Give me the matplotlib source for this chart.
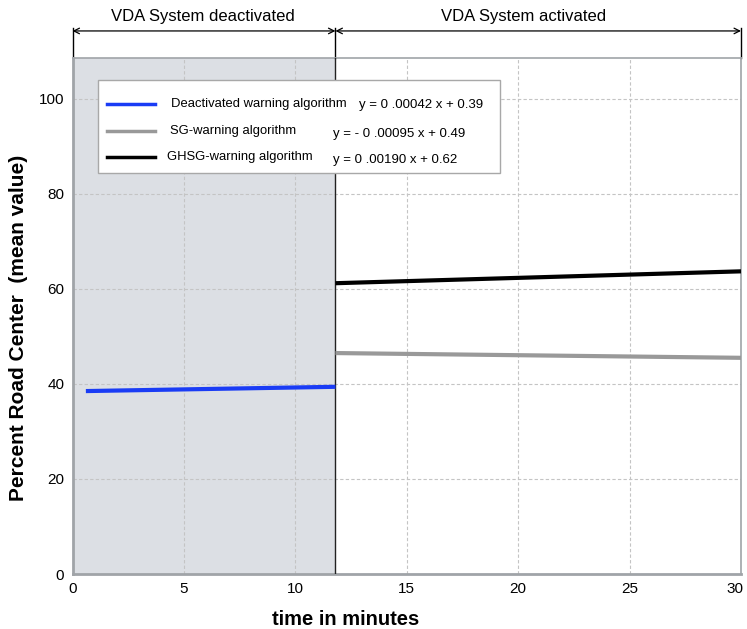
import matplotlib
matplotlib.use("Agg")
import matplotlib.pyplot as plt
import matplotlib.transforms as mtransforms
from matplotlib.patches import Rectangle
from matplotlib.lines import Line2D

plt.rcParams['font.family'] = ['Liberation Sans', 'DejaVu Sans']

# ---- data ----
switch_time = 11.8          # VDA system switched on (minutes)
x_range = [0, 30]
y_range = [0, 108.6]
xticks = [0, 5, 10, 15, 20, 25, 30]
yticks = [0, 20, 40, 60, 80, 100]

deact_x = [0.6, switch_time]
deact_y = [38.5, 39.4]
sg_x = [switch_time, 30]
sg_y = [46.5, 45.5]
ghsg_x = [switch_time, 30]
ghsg_y = [61.2, 63.7]

series_names = ["Deactivated warning algorithm", "SG-warning algorithm", "GHSG-warning algorithm"]
equations = ["y = 0 .00042 x + 0.39", "y = - 0 .00095 x + 0.49", "y = 0 .00190 x + 0.62"]
colors = ["#1a3cf5", "#999999", "#000000"]
phase_labels = ["VDA System deactivated", "VDA System activated"]

W, H = 747, 629
fig = plt.figure(figsize=(W / 100, H / 100), dpi=100)
ax = fig.add_axes([72.5 / W, 1 - 574 / H, (741 - 72.5) / W, (574 - 58) / H])
ax.set_xlim(*x_range)
ax.set_ylim(*y_range)

# shaded deactivated region
ax.axvspan(x_range[0], switch_time, color="#dcdfe4", zorder=0, lw=0)
ax.axvline(switch_time, color="#222222", lw=1.0, zorder=3)

# grid
ax.set_xticks(xticks)
ax.set_yticks(yticks)
ax.grid(True, ls=(0, (3, 2)), color="#c4c4c4", lw=0.8, zorder=1)
ax.tick_params(length=0, labelsize=11, pad=6)
ax.tick_params(axis='y', pad=6)

# keep the last x tick label inside the figure
last = ax.get_xticklabels()[-1]
last.set_transform(last.get_transform() +
                   mtransforms.ScaledTranslation(-6 / 100, 0, fig.dpi_scale_trans))

for s in ['left', 'bottom']:
    ax.spines[s].set_color('#a0a4a8')
    ax.spines[s].set_linewidth(2.0)
for s in ['top', 'right']:
    ax.spines[s].set_color('#a0a4a8')
    ax.spines[s].set_linewidth(1.2)

# data lines
ax.plot(deact_x, deact_y, color=colors[0], lw=3.0, zorder=4, solid_capstyle='butt')
ax.plot(sg_x, sg_y, color=colors[1], lw=3.0, zorder=4, solid_capstyle='butt')
ax.plot(ghsg_x, ghsg_y, color=colors[2], lw=3.0, zorder=4, solid_capstyle='butt')

ax.set_xlabel("time in minutes", fontsize=14.5, fontweight='bold')
ax.set_ylabel("Percent Road Center  (mean value)", fontsize=15, fontweight='bold')
ax.xaxis.set_label_coords((346 - 72.5) / 668.5, (573 - 618) / 515)
ax.yaxis.set_label_coords((19 - 72.5) / 668.5, (573 - 327) / 515)
ax.xaxis.label.set_va('center')
ax.yaxis.label.set_va('center')

# legend box (manual)
def fx(px):
    return px / W

def fy(py):
    return 1 - py / H

box = Rectangle((fx(97.5), fy(173)), fx(500) - fx(97.5), fy(80) - fy(173),
                transform=fig.transFigure, facecolor='white', edgecolor='#a8a8a8',
                lw=1.0, zorder=10)
fig.add_artist(box)

row_y = [104, 131, 157]
label_x = [171, 170, 167]
eq_x = [359, 333, 333]
eq_y = [105, 134, 160]
for i in range(3):
    fig.add_artist(Line2D([fx(107), fx(155)], [fy(row_y[i]), fy(row_y[i])],
                          transform=fig.transFigure, color=colors[i], lw=2.5, zorder=11))
    fig.text(fx(label_x[i]), fy(row_y[i]), series_names[i], fontsize=9.4,
             va='center', ha='left', zorder=12)
    fig.text(fx(eq_x[i]), fy(eq_y[i]), equations[i], fontsize=9.5,
             va='center', ha='left', zorder=12)

# phase annotations above the plot
tr = ax.get_xaxis_transform()
y_arrow = (573 - 31) / (573 - 58)
y_top = (573 - 28) / (573 - 58)
for xv in [x_range[0], switch_time, x_range[1]]:
    ax.plot([xv, xv], [1.0, y_top], transform=tr, color='black', lw=1.0, clip_on=False)
ax.annotate("", xy=(x_range[0], y_arrow), xytext=(switch_time, y_arrow), xycoords=tr,
            textcoords=tr, arrowprops=dict(arrowstyle='<->', color='black', lw=0.9,
                                           shrinkA=0, shrinkB=0))
ax.annotate("", xy=(switch_time, y_arrow), xytext=(x_range[1], y_arrow), xycoords=tr,
            textcoords=tr, arrowprops=dict(arrowstyle='<->', color='black', lw=0.9,
                                           shrinkA=0, shrinkB=0))
fig.text(fx(203), fy(17), phase_labels[0], fontsize=12, ha='center', va='center')
fig.text(fx(524), fy(17), phase_labels[1], fontsize=12, ha='center', va='center')

fig.savefig("out.png", dpi=100)
